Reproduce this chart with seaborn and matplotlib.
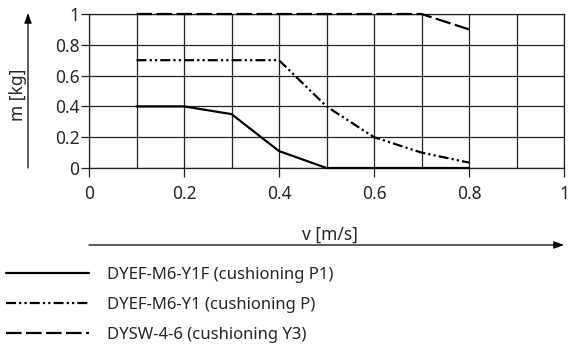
import matplotlib
matplotlib.use("Agg")
import matplotlib.pyplot as plt
import seaborn as sns
import pandas as pd
import numpy as np
from matplotlib.lines import Line2D

# ---- data ----
speed_p1 = [0.1, 0.2, 0.3, 0.4, 0.5, 0.8]
mass_p1 = [0.4, 0.4, 0.35, 0.11, 0.0, 0.0]

speed_p = [0.1, 0.4, 0.5, 0.6, 0.7, 0.8]
mass_p = [0.7, 0.7, 0.4, 0.2, 0.1, 0.035]

speed_y3 = [0.1, 0.7, 0.8]
mass_y3 = [1.0, 1.0, 0.9]

labels = ["DYEF-M6-Y1F (cushioning P1)",
          "DYEF-M6-Y1 (cushioning P)",
          "DYSW-4-6 (cushioning Y3)"]

x_ticks = [0, 0.2, 0.4, 0.6, 0.8, 1]
x_tick_labels = ["0", "0.2", "0.4", "0.6", "0.8", "1"]
y_ticks = [0, 0.2, 0.4, 0.6, 0.8, 1]
y_tick_labels = ["0", "0.2", "0.4", "0.6", "0.8", "1"]

df = pd.concat([
    pd.DataFrame({"v": speed_p1, "m": mass_p1, "series": labels[0]}),
    pd.DataFrame({"v": speed_p, "m": mass_p, "series": labels[1]}),
    pd.DataFrame({"v": speed_y3, "m": mass_y3, "series": labels[2]}),
], ignore_index=True)

sns.set_theme(style="white")
plt.rcParams["font.family"] = ["Noto Sans", "DejaVu Sans"]

W, H = 568, 349
fig = plt.figure(figsize=(W / 100, H / 100), dpi=100)
ax = fig.add_axes([89 / W, 1 - 168 / H, 475 / W, 154 / H])

dashes = {
    labels[0]: "",
    labels[1]: (4.5, 1.4, 1.0, 1.4, 1.0, 1.4),
    labels[2]: (7.0, 2.0),
}
sns.lineplot(data=df, x="v", y="m", style="series", dashes=dashes,
             color="black", linewidth=1.6, ax=ax, legend=False,
             sort=False, estimator=None)
for ln in ax.lines:
    ln.set_clip_on(False)
    ln.set_zorder(5)

ax.set_xlim(0, 1)
ax.set_ylim(0, 1)
ax.set_xticks(x_ticks)
ax.set_xticklabels(x_tick_labels)
ax.set_xticks(np.arange(0.1, 1.0, 0.2), minor=True)
ax.set_yticks(y_ticks)
ax.set_yticklabels(y_tick_labels)
ax.grid(True, which="both", axis="x", color="#222222", linewidth=0.9)
ax.grid(True, which="major", axis="y", color="#222222", linewidth=0.9)
ax.tick_params(axis="x", which="major", direction="out", length=6.5, width=0.9,
               color="#222222", labelsize=12.5, pad=6, bottom=True)
ax.tick_params(axis="x", which="minor", length=0)
ax.tick_params(axis="y", which="major", direction="out", length=6, width=0.9,
               color="#222222", labelsize=12.5, pad=1, left=True)
for s in ax.spines.values():
    s.set_color("#222222")
    s.set_linewidth(0.9)
ax.set_xlabel("")
ax.set_ylabel("")

# axis labels with arrows
fig.text(18 / W, 1 - 95 / H, "m [kg]", rotation=90, ha="center", va="center",
         fontsize=12.5)
fig.text(330 / W, 1 - 235 / H, "v [m/s]", ha="center", va="center",
         fontsize=12.5)
fig.patches.append(matplotlib.patches.FancyArrowPatch(
    (28 / W, 1 - 168 / H), (28 / W, 1 - 13 / H), transform=fig.transFigure,
    arrowstyle="-|>,head_length=6,head_width=2.2", color="black",
    linewidth=0.9, shrinkA=0, shrinkB=0))
fig.patches.append(matplotlib.patches.FancyArrowPatch(
    (89 / W, 1 - 245 / H), (564 / W, 1 - 245 / H), transform=fig.transFigure,
    arrowstyle="-|>,head_length=6,head_width=2.2", color="black",
    linewidth=0.9, shrinkA=0, shrinkB=0))

# legend
handles = [Line2D([], [], color="black", linewidth=1.6,
                  linestyle=(0, dashes[l]) if dashes[l] else "-")
           for l in labels]
fig.legend(handles, labels, loc="upper left",
           bbox_to_anchor=(6 / W, 1 - 267 / H), frameon=False,
           fontsize=12, handlelength=5.0, handletextpad=1.05,
           borderpad=0, borderaxespad=0, labelspacing=0.84)

fig.savefig("out.png", dpi=100)
